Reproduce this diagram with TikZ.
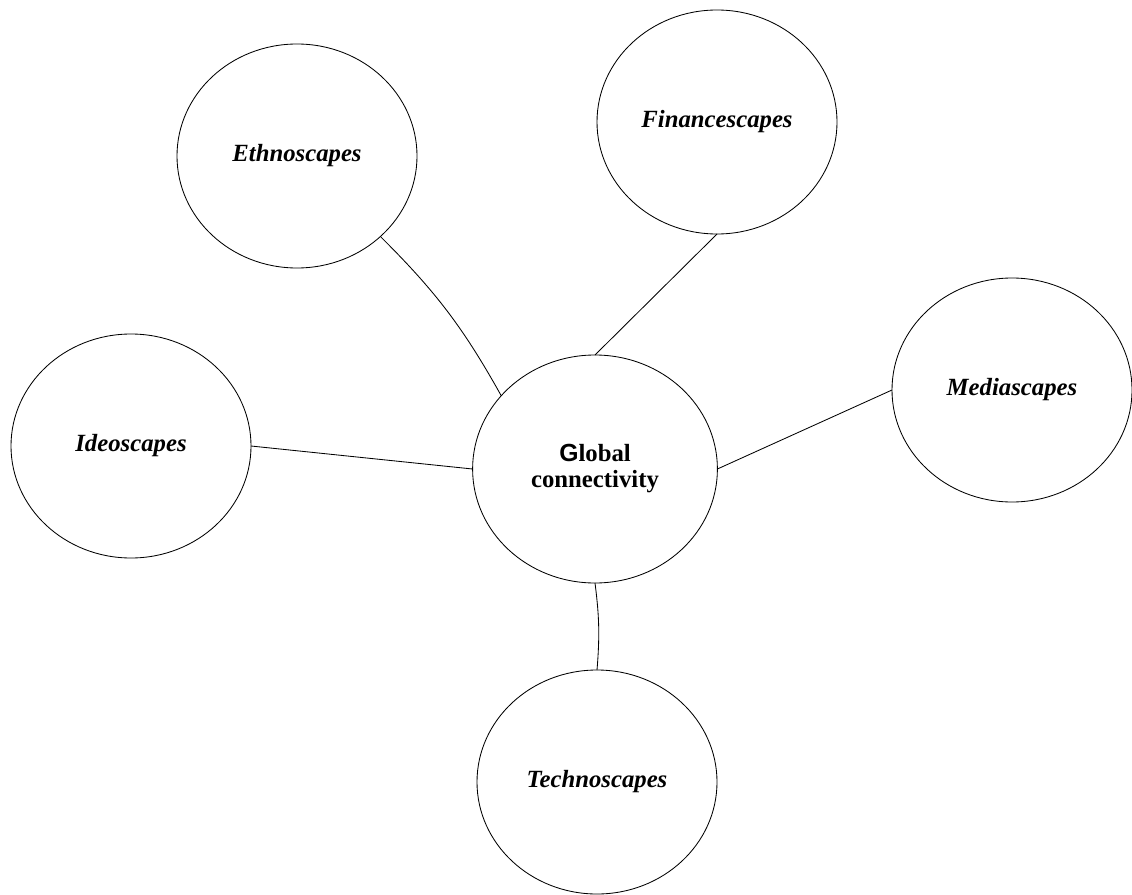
\documentclass[tikz,border=0pt]{standalone}
\usepackage{fontspec}
\setmainfont{Liberation Serif}
\setsansfont{Liberation Sans}
\usetikzlibrary{shapes.geometric}
\tikzset{
    every edge/.style={
	draw=black,
	line width=0.6pt,
    },
    scape/.style={
	anchor=center,
	ellipse,
	draw=black,
	line width=0.6pt,
	minimum width=6cm,
	minimum height=5.6cm,
	inner sep=0pt,
	outer sep=0pt,
	font=\fontsize{17.6}{18}\selectfont\bfseries\itshape
    },
    hub/.style={
	scape,
	minimum width=6.12cm,
	minimum height=5.7cm,
	align=center,
	font=\fontsize{17.6}{18.5}\selectfont\bfseries
    },
}

\begin{document}
\begin{tikzpicture}

    \useasboundingbox (0,0) rectangle (28.3,-22.35);

    \node[hub] (GLOBAL) at (14.875,-11.725) {%
	\textsf{G}lobal\\connectivity};

    \node[scape] (ETHNO) at (7.425,-3.9) {Ethnoscapes};

    \node[scape] (FINANCE) at (17.925,-3.05) {Financescapes};

    \node[scape] (MEDIA) at (25.3,-9.75) {Mediascapes};

    \node[scape] (IDEO) at (3.275,-11.15) {Ideoscapes};

    \node[scape] (TECHNO) at (14.925,-19.55) {Technoscapes};


    \path (ETHNO.-44)    edge[bend left=8] (GLOBAL.142);
    \path (FINANCE.south) edge (GLOBAL.north);
    \path (MEDIA.west)   edge (GLOBAL.east);
    \path (IDEO.east)    edge (GLOBAL.west);
    \path (GLOBAL.south) edge[bend left=6] (TECHNO.north);
\end{tikzpicture}
\end{document}
